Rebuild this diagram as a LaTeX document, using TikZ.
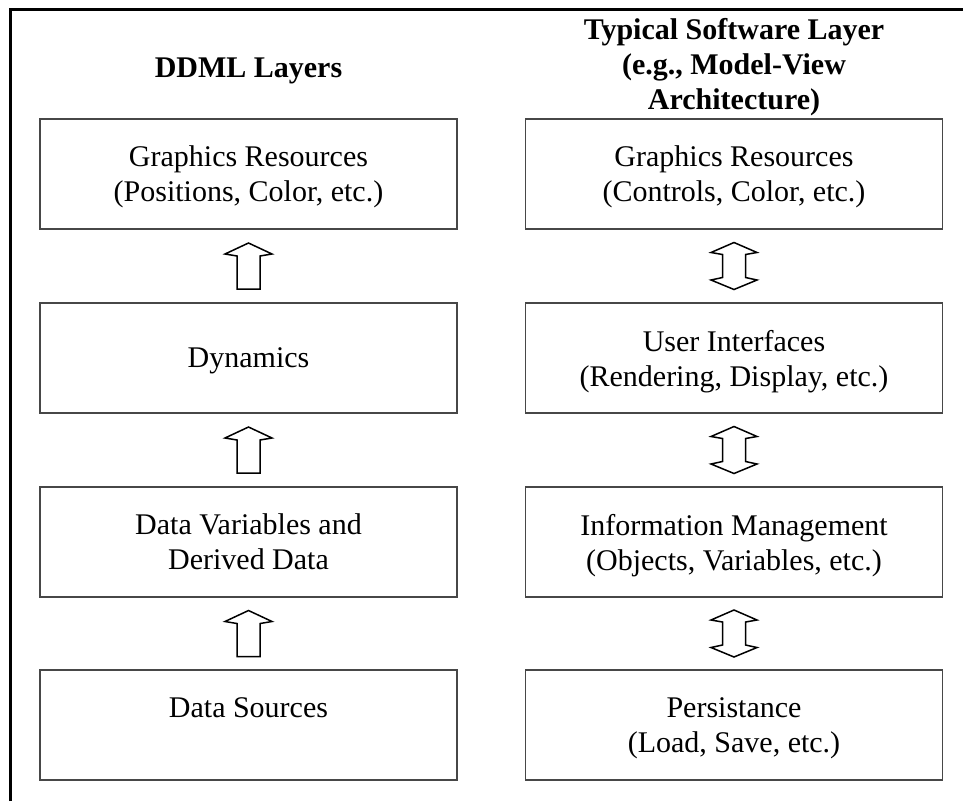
\documentclass[tikz,border=0pt]{standalone}
\usepackage{fontspec}
\setmainfont{Liberation Serif}
\usetikzlibrary{calc}
\begin{document}
\begin{tikzpicture}[x=1pt,y=-1pt,
  layerbox/.style={draw=black!72, line width=1.6pt, minimum width=417pt, minimum height=110pt,
    align=center, inner sep=0pt, text depth=0pt, font=\fontsize{30}{35}\selectfont},
  heading/.style={align=center, inner sep=0pt, font=\bfseries\fontsize{30}{35}\selectfont},
  blockarrow/.style={draw=black, line width=1.5pt, line join=miter, fill=white},
  uparrow/.pic={\draw[blockarrow] (0,-23) -- (23.5,-12) -- (11.5,-10) -- (11.5,23) -- (-11.5,23) -- (-11.5,-10) -- (-23.5,-12) -- cycle;},
  dblarrow/.pic={\draw[blockarrow] (0,-23.5) -- (23,-13.5) -- (11.5,-11.5) -- (11.5,11.5) -- (23,14) -- (0,23.5) -- (-23,14) -- (-11.5,11.5) -- (-11.5,-11.5) -- (-23,-13.5) -- cycle;}
]
\useasboundingbox (0,0) rectangle (963,801);
\fill[white] (0,0) rectangle (963,801);
% frame
\draw[line width=3pt] (10,801) -- (10,9) -- (963,9);
% headings
\node[heading, anchor=base] (hl) at (248.5,77) {DDML Layers};
\node[heading] (hr) at (734,67) {Typical Software Layer\\(e.g., Model-View\\Architecture)};
% left column
\node[layerbox] (l1) at (248.5,174) {Graphics Resources\\(Positions, Color, etc.)};
\node[layerbox] (l2) at (248.5,358) {Dynamics};
\node[layerbox] (l3) at (248.5,542) {Data Variables and\\Derived Data};
\node[layerbox] (l4) at (248.5,725) {Data Sources\\\phantom{(Load, Save, etc.)}};
% right column
\node[layerbox] (r1) at (734,174) {Graphics Resources\\(Controls, Color, etc.)};
\node[layerbox] (r2) at (734,358) {User Interfaces\\(Rendering, Display, etc.)};
\node[layerbox] (r3) at (734,542) {Information Management\\(Objects, Variables, etc.)};
\node[layerbox] (r4) at (734,725) {Persistance\\(Load, Save, etc.)};
% arrows
\foreach \a/\b in {l1/l2,l2/l3,l3/l4}{
  \path ($(\a.south)!0.5!(\b.north)$) pic {uparrow};
}
\foreach \a/\b in {r1/r2,r2/r3,r3/r4}{
  \path ($(\a.south)!0.5!(\b.north)$) pic {dblarrow};
}
\end{tikzpicture}
\end{document}
